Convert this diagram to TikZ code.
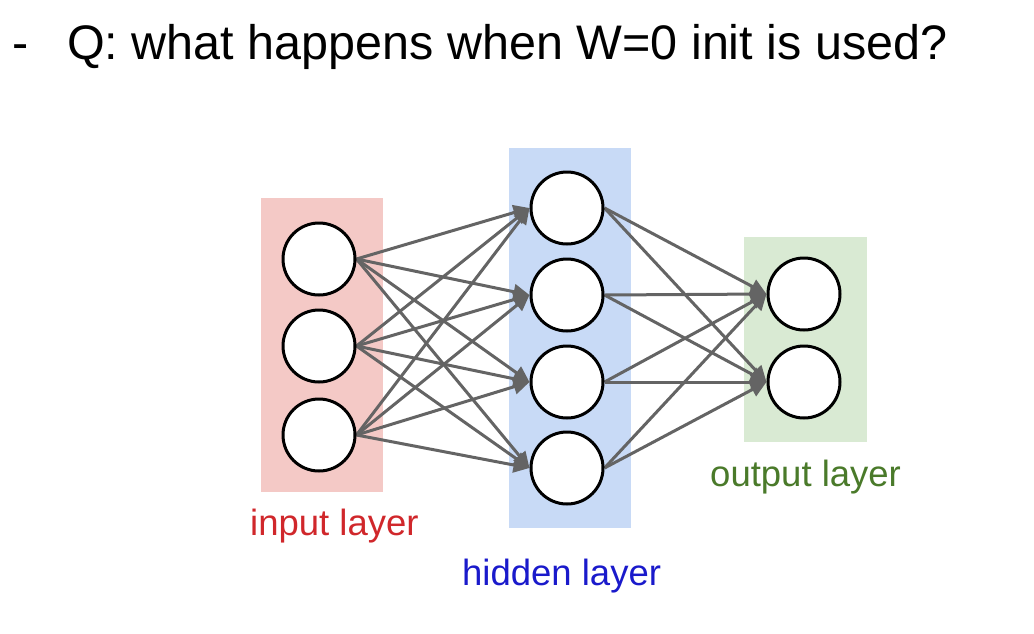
\documentclass[tikz,border=0pt]{standalone}
\usepackage{fontspec}
\setmainfont{Liberation Sans}
\usetikzlibrary{arrows.meta}
\pgfdeclarelayer{bg}
\pgfdeclarelayer{edges}
\pgfsetlayers{bg,edges,main}
\definecolor{inbg}{HTML}{F4C9C6}
\definecolor{hidbg}{HTML}{C8DAF6}
\definecolor{outbg}{HTML}{D9EAD3}
\definecolor{inred}{HTML}{D0272B}
\definecolor{hidblue}{HTML}{1A1ACB}
\definecolor{outgreen}{HTML}{4A7A2A}
\definecolor{edgegray}{HTML}{646464}
\tikzset{
  neuron/.style={circle, draw=black, fill=white, line width=3pt, minimum size=72pt, inner sep=0pt},
  conn/.style={draw=edgegray, line width=3pt, -{Triangle[length=16pt,width=15pt]}},
  layerlabel/.style={anchor=base west, inner sep=0pt, font=\fontsize{36.5}{40}\selectfont},
}
\begin{document}
\begin{tikzpicture}[x=1pt,y=-1pt]
\useasboundingbox (0,0) rectangle (1034,633);
% title
\node[anchor=base west, inner sep=0pt, font=\fontsize{48.5}{55}\selectfont] (dash) at (12,59) {-};
\node[anchor=base west, inner sep=0pt, font=\fontsize{48.5}{55}\selectfont] (title) at (67,59) {Q: what happens when W=0 init is used?};
% layer backgrounds
\begin{pgfonlayer}{bg}
\fill[inbg] (261,198) rectangle (383,492);
\fill[hidbg] (509,148) rectangle (631,528);
\fill[outbg] (744,237) rectangle (867,442);
\end{pgfonlayer}
% neurons
\node[neuron] (i1) at (319,259) {};
\node[neuron] (i2) at (319,346) {};
\node[neuron] (i3) at (319,435) {};
\node[neuron] (h1) at (567,208) {};
\node[neuron] (h2) at (567,295) {};
\node[neuron] (h3) at (567,382) {};
\node[neuron] (h4) at (567,468) {};
\node[neuron] (o1) at (804,294) {};
\node[neuron] (o2) at (804,382) {};
% connections
\begin{pgfonlayer}{edges}
\foreach \a in {i1,i2,i3}{
  \foreach \b in {h1,h2,h3,h4}{
    \draw[conn] (\a.east) -- (\b.west);
  }
}
\foreach \a in {h1,h2,h3,h4}{
  \foreach \b in {o1,o2}{
    \draw[conn] (\a.east) -- (\b.west);
  }
}
\end{pgfonlayer}
% labels
\node[layerlabel, text=inred] (inlab) at (250,535) {input layer};
\node[layerlabel, text=hidblue] (hidlab) at (462,585) {hidden layer};
\node[layerlabel, text=outgreen] (outlab) at (710,486) {output layer};
\end{tikzpicture}
\end{document}
